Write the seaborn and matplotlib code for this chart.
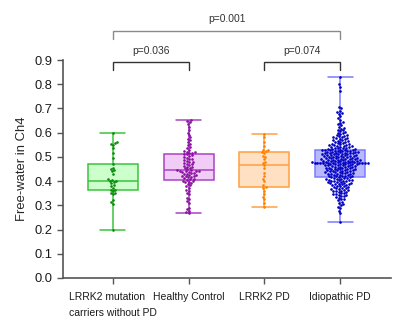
import numpy as np
import pandas as pd
import matplotlib
matplotlib.use("Agg")
import matplotlib.pyplot as plt
import seaborn as sns

# Groups shown on the x axis
groups = ["LRRK2 mutation\ncarriers without PD", "Healthy Control", "LRRK2 PD", "Idiopathic PD"]

# Free-water values per subject
lrrk2_carriers = [
    0.198, 0.305, 0.312, 0.320, 0.345, 0.350, 0.352, 0.358, 0.363,
    0.365, 0.372, 0.380, 0.385, 0.392, 0.396, 0.400, 0.402,
    0.405, 0.410, 0.430, 0.440, 0.445, 0.450, 0.455, 0.469,
    0.495, 0.515, 0.535, 0.548, 0.553, 0.557, 0.560, 0.599,
]
healthy_control = [
    0.267, 0.272, 0.278, 0.285, 0.290, 0.310, 0.318, 0.325, 0.330, 0.345,
    0.352, 0.360, 0.365, 0.372, 0.378, 0.382, 0.388, 0.392, 0.395, 0.398,
    0.400, 0.402, 0.405,
    0.407, 0.409, 0.412, 0.415, 0.417, 0.419, 0.421, 0.423, 0.425, 0.427,
    0.429, 0.431, 0.433, 0.435, 0.437, 0.439, 0.440, 0.441, 0.442, 0.443, 0.444,
    0.446,
    0.448, 0.452, 0.455, 0.458, 0.460, 0.463, 0.466, 0.470, 0.472, 0.475,
    0.478, 0.480, 0.483, 0.486, 0.490, 0.493, 0.496, 0.500, 0.503, 0.506, 0.510,
    0.513,
    0.515, 0.518, 0.520, 0.522, 0.525, 0.530, 0.535, 0.540, 0.548, 0.555,
    0.560, 0.568, 0.575, 0.580, 0.590, 0.600, 0.612, 0.625, 0.635, 0.642,
    0.648, 0.652,
]
lrrk2_pd = [
    0.294, 0.310, 0.325, 0.335, 0.345, 0.360, 0.370, 0.377,
    0.382, 0.400, 0.410, 0.420, 0.435, 0.455, 0.467,
    0.475, 0.480, 0.490, 0.500, 0.505, 0.515, 0.519,
    0.525, 0.528, 0.530, 0.545, 0.560, 0.580, 0.595,
]
idiopathic_pd = [
    0.230, 0.268, 0.278, 0.288, 0.295, 0.300, 0.305, 0.310, 0.315, 0.320,
    0.325, 0.328, 0.332, 0.335, 0.338, 0.340, 0.342, 0.344, 0.346, 0.348,
    0.350, 0.352, 0.354, 0.356, 0.358, 0.360, 0.361, 0.362, 0.364, 0.366,
    0.368, 0.370, 0.371, 0.372, 0.374, 0.376, 0.378, 0.380, 0.381, 0.382,
    0.384, 0.386, 0.388, 0.389, 0.390, 0.391, 0.392, 0.394, 0.395, 0.396,
    0.398, 0.399, 0.400, 0.401, 0.402, 0.403, 0.404, 0.405, 0.406, 0.408,
    0.409, 0.410, 0.412, 0.413, 0.414, 0.415, 0.417, 0.418,
    0.419, 0.420, 0.420, 0.422, 0.423, 0.425, 0.425, 0.426, 0.428, 0.429,
    0.430, 0.430, 0.432, 0.433, 0.435, 0.436, 0.436, 0.438, 0.439, 0.440,
    0.440, 0.441, 0.443, 0.444, 0.445, 0.445, 0.447, 0.448, 0.449, 0.450,
    0.450, 0.451, 0.453, 0.454, 0.455, 0.455, 0.456, 0.458, 0.459, 0.460,
    0.460, 0.461, 0.462, 0.464, 0.465, 0.465, 0.466, 0.467, 0.468, 0.469,
    0.470, 0.470, 0.471, 0.472, 0.472, 0.473, 0.474, 0.474, 0.475, 0.475,
    0.475, 0.475, 0.476, 0.476, 0.476, 0.476, 0.476,
    0.477, 0.478, 0.478, 0.479, 0.480, 0.480, 0.481, 0.482, 0.482, 0.483,
    0.484, 0.485, 0.485, 0.486, 0.487, 0.488, 0.488, 0.489, 0.490, 0.490,
    0.491, 0.492, 0.493, 0.494, 0.495, 0.495, 0.496, 0.497, 0.498, 0.499,
    0.500, 0.500, 0.501, 0.502, 0.503, 0.504, 0.505, 0.505, 0.506, 0.507,
    0.508, 0.509, 0.510, 0.510, 0.511, 0.512, 0.513, 0.514, 0.515, 0.515,
    0.516, 0.517, 0.518, 0.519, 0.520, 0.520, 0.521, 0.522, 0.523, 0.524,
    0.525, 0.525, 0.526, 0.527, 0.527, 0.528, 0.528,
    0.529, 0.530, 0.531, 0.532, 0.533, 0.535, 0.536, 0.537, 0.538, 0.540,
    0.541, 0.542, 0.543, 0.545, 0.546, 0.548, 0.549, 0.550, 0.552, 0.553,
    0.555, 0.556, 0.558, 0.560, 0.561, 0.563, 0.565, 0.567, 0.568, 0.570,
    0.572, 0.574, 0.576, 0.578, 0.580, 0.582, 0.585, 0.587, 0.590, 0.592,
    0.595, 0.598, 0.600, 0.603, 0.606, 0.610, 0.613, 0.617, 0.620, 0.625,
    0.630, 0.635, 0.640, 0.645, 0.652, 0.660, 0.668, 0.678, 0.682, 0.686,
    0.690, 0.700, 0.707, 0.770, 0.790, 0.800, 0.831,
]

# p-value brackets: (left group, right group, label)
comparisons = [(0, 1, "p=0.036"), (2, 3, "p=0.074"), (0, 3, "p=0.001")]

fill_colors = ["#ccffcc", "#f0ccf7", "#ffe0c2", "#b8b8ff"]
edge_colors = ["#3cc43c", "#a844c4", "#ffa040", "#7a7aff"]
dot_colors = ["#0a8a0a", "#8a10a0", "#ff8000", "#0000c0"]

values = [lrrk2_carriers, healthy_control, lrrk2_pd, idiopathic_pd]
df = pd.concat([pd.DataFrame({"group": g, "fw": v}) for g, v in zip(groups, values)],
               ignore_index=True)

sns.set_style("ticks")
plt.rcParams["font.family"] = ["Liberation Sans", "DejaVu Sans"]

fig = plt.figure(figsize=(4.0, 3.27), dpi=100)
ax = fig.add_axes([0.1575, 0.150, 0.82, 0.6665])

for i, g in enumerate(groups):
    sub = df[df["group"] == g]
    sns.boxplot(data=sub, x="group", y="fw", order=groups, ax=ax,
                whis=(0, 100), width=0.66, showfliers=False,
                color=fill_colors[i], linecolor=edge_colors[i], linewidth=1.1,
                saturation=1)
    sns.swarmplot(data=sub, x="group", y="fw", order=groups, ax=ax,
                  color=dot_colors[i], size=1.9, linewidth=0)

# shorter caps, like the original
for line in ax.lines:
    xd = np.asarray(line.get_xdata(), dtype=float)
    yd = np.asarray(line.get_ydata(), dtype=float)
    if len(xd) == 2 and yd[0] == yd[1] and abs(xd[1] - xd[0]) > 0:
        c = xd.mean()
        w = abs(xd[1] - xd[0])
        if w < 0.5:
            line.set_xdata([c - 0.165, c + 0.165])

ax.set_xlim(-0.66, 3.67)
ax.set_ylim(0, 0.9)
ax.set_yticks(np.arange(0, 0.91, 0.1))
ax.set_yticklabels([f"{t:.1f}" for t in np.arange(0, 0.91, 0.1)], fontsize=9.3)
ax.set_xticks(range(len(groups)))
ax.set_xticklabels(groups, fontsize=7.5, linespacing=1.8, multialignment="left")
ax.set_xlabel("")
ax.set_ylabel("Free-water in Ch4", fontsize=9.4, labelpad=5)

for side in ["top", "right"]:
    ax.spines[side].set_visible(False)
for side in ["left", "bottom"]:
    ax.spines[side].set_color("#555555")
    ax.spines[side].set_linewidth(1.2)
ax.tick_params(axis="both", length=4.5, width=1.0, color="#555555", labelcolor="#1a1a1a", pad=3)
ax.tick_params(axis="x", pad=5.5)

# significance brackets
for a, b, label in comparisons:
    if b - a > 1:
        y, drop, col, ty = 1.02, 0.033, "#8a8a8a", 1.069
    else:
        y, drop, col, ty = 0.89, 0.032, "#333333", 0.937
    ax.plot([a, a, b, b], [y - drop, y, y, y - drop], color=col, lw=1.0,
            clip_on=False, solid_joinstyle="miter")
    ax.text((a + b) / 2, ty, label, ha="center", va="center", fontsize=7.4,
            color="#333333", clip_on=False)

fig.savefig("out.png", dpi=100)
